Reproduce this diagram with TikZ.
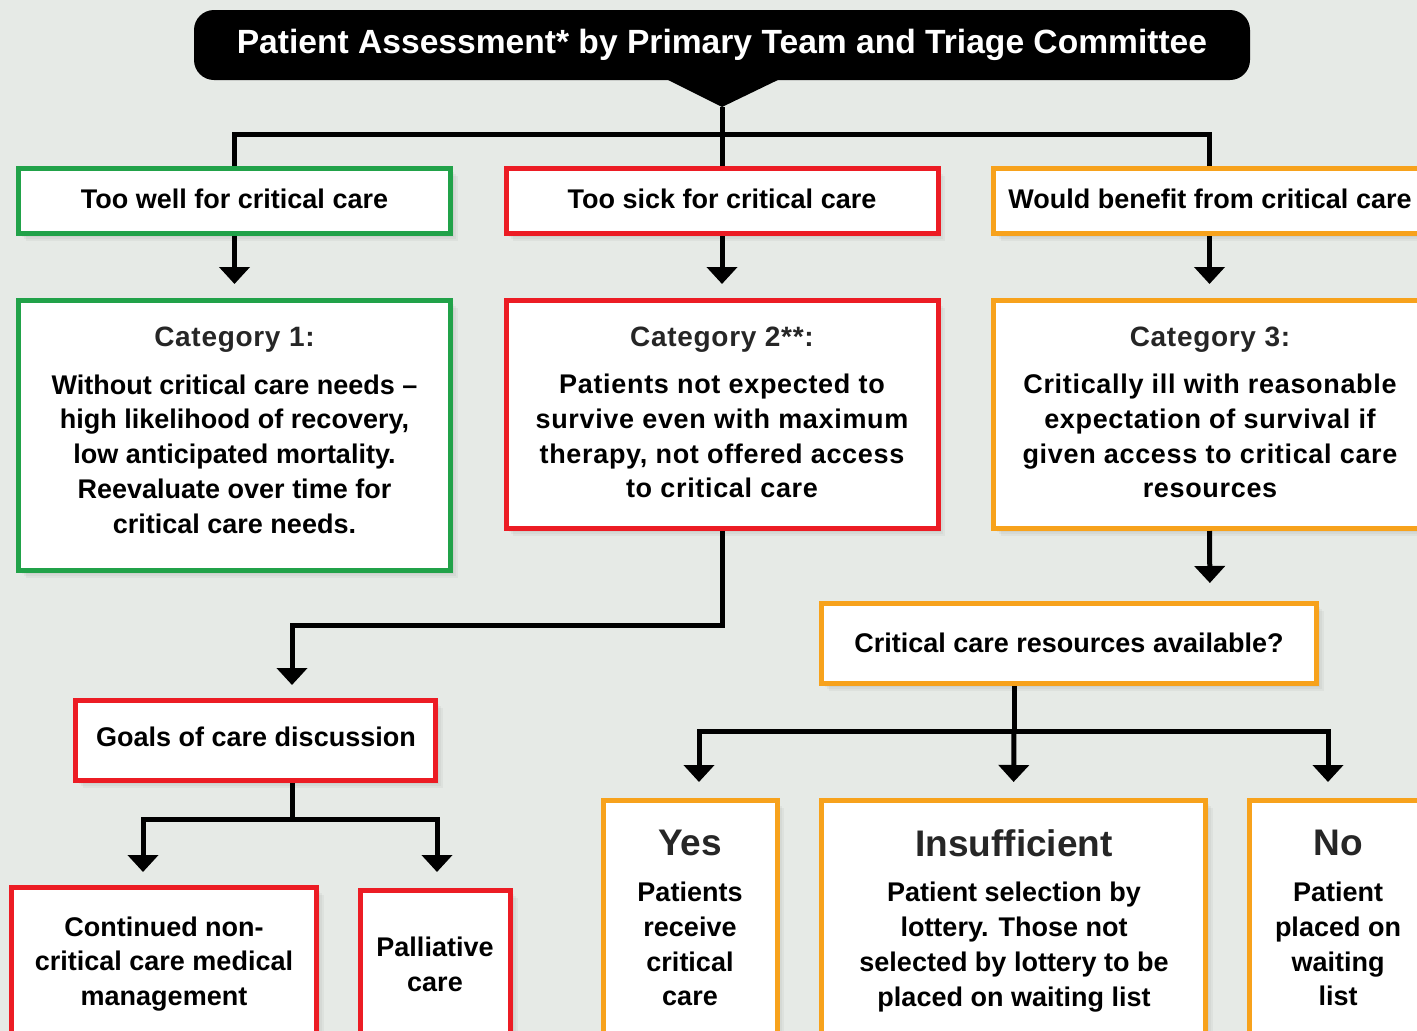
\documentclass[tikz,border=0pt]{standalone}
\usepackage{fontspec}
\setmainfont{Liberation Sans}
\newfontfamily\spacedfont{Liberation Sans}[LetterSpace=2.5]
\usetikzlibrary{arrows.meta,calc,shadows}
\definecolor{bg}{HTML}{E6EAE6}
\definecolor{cgreen}{HTML}{21A249}
\definecolor{cred}{HTML}{EC1C24}
\definecolor{corange}{HTML}{F7A21C}
\definecolor{cgray}{HTML}{262626}
\begin{document}
\begin{tikzpicture}[x=1pt,y=-1pt,
  softshadow/.style={
    general shadow={fill=black, opacity=.035, shadow xshift=3pt, shadow yshift=-3pt},
    general shadow={fill=black, opacity=.035, shadow xshift=5pt, shadow yshift=-5pt},
    general shadow={fill=black, opacity=.035, shadow xshift=7pt, shadow yshift=-7pt}},
  gbox/.style={softshadow, draw=cgreen, line width=5pt, fill=white, inner sep=0pt},
  rbox/.style={softshadow, draw=cred, line width=5pt, fill=white, inner sep=0pt},
  obox/.style={softshadow, draw=corange, line width=5pt, fill=white, inner sep=0pt},
  txt/.style={font=\fontsize{27}{34.8}\selectfont\bfseries, align=center, inner sep=0pt, text=black},
  stxt/.style={font=\fontsize{27}{34.8}\selectfont\spacedfont\bfseries, align=center, inner sep=0pt, text=black},
  head/.style={font=\fontsize{28}{34}\selectfont\spacedfont\bfseries, inner sep=0pt, text=cgray},
  bighead/.style={font=\fontsize{37}{40}\selectfont\bfseries, inner sep=0pt, text=cgray},
  conn/.style={line width=5pt, draw=black},
  arr/.style={conn, -{Triangle[width=30pt,length=17pt]}}]
\useasboundingbox (0,0) rectangle (1417,1031);
\clip (0,0) rectangle (1417,1031);
\fill[bg] (0,0) rectangle (1417,1031);

% banner
\node[fill=black, rounded corners=20pt, minimum width=1056pt, minimum height=70pt, inner sep=0pt] (banner) at (722,45) {};
\coordinate (apex) at (722,107);
\fill[black] (664,78) -- (apex) -- (782,78) -- cycle;
\node[font=\fontsize{33.6}{36}\selectfont\bfseries, text=white, inner sep=0pt] (bannertext) at (722,45) {Patient Assessment* by Primary Team and Triage Committee};

% row 1
\node[gbox, minimum width=432pt, minimum height=65pt] (toowell) at (234.5,201) {};
\node[rbox, minimum width=432pt, minimum height=65pt] (toosick) at (722,201) {};
\node[obox, minimum width=432pt, minimum height=65pt] (benefit) at (1209.5,201) {};
\node[txt] (toowelltext) at (234.5,199) {Too well for critical care};
\node[txt] (toosicktext) at (722,199) {Too sick for critical care};
\node[txt] (benefittext) at (1210,199) {Would benefit from critical care};

% row 2
\node[gbox, minimum width=432pt, minimum height=270pt] (cat1) at (234.5,435.5) {};
\node[rbox, minimum width=432pt, minimum height=228pt] (cat2) at (722,414.5) {};
\node[obox, minimum width=432pt, minimum height=228pt] (cat3) at (1209.5,414.5) {};
\node[head] (cat1head) at (234.5,340) {Category 1:};
\node[head] (cat2head) at (722,340) {Category 2**:};
\node[head] (cat3head) at (1210,340) {Category 3:};
\node[txt] (cat1text) at (234.5,454) {Without critical care needs --\\high likelihood of recovery,\\low anticipated mortality.\\Reevaluate over time for\\critical care needs.};
\node[stxt] (cat2text) at (722,436) {Patients not expected to\\survive even with maximum\\therapy, not offered access\\to critical care};
\node[stxt] (cat3text) at (1210,436) {Critically ill with reasonable\\expectation of survival if\\given access to critical care\\resources};

% critical resources
\node[obox, minimum width=495pt, minimum height=80pt] (crit) at (1069,643.5) {};
\node[txt] (crittext) at (1069,643) {Critical care resources available?};

% goals
\node[rbox, minimum width=360pt, minimum height=80pt] (goals) at (255.5,740.5) {};
\node[txt] (goalstext) at (256,737) {Goals of care discussion};

% bottom left
\node[rbox, minimum width=305pt, minimum height=210pt] (contin) at (164.25,992.5) {};
\node[rbox, minimum width=150pt, minimum height=207pt] (pall) at (435.5,994) {};
\node[txt] (contintext) at (164,964) {Continued non-\\critical care medical\\management};
\node[txt] (palltext) at (435,964) {Palliative\\care};

% bottom right
\node[obox, minimum width=174pt, minimum height=297pt] (yes) at (690,949) {};
\node[obox, minimum width=384pt, minimum height=297pt] (insuff) at (1013.5,949) {};
\node[obox, minimum width=177pt, minimum height=297pt] (no) at (1338,949) {};
\node[bighead] (yeshead) at (690,843) {Yes};
\node[bighead] (insuffhead) at (1014,843) {Insufficient};
\node[bighead] (nohead) at (1338,843) {No};
\node[txt] (yestext) at (690,944) {Patients\\receive\\critical\\care};
\node[txt] (insufftext) at (1014,947) {Patient selection by\\lottery. Those not\\selected by lottery to be\\placed on waiting list};
\node[txt] (notext) at (1338,944) {Patient\\placed on\\waiting\\list};

% connectors: banner to row 1
\coordinate (bar) at (722,134);
\draw[conn] (apex) -- (toosick.north);
\draw[conn] (toowell.north) |- (bar) -| (benefit.north);

% row 1 to row 2
\draw[arr, shorten >=14pt] (toowell.south) -- (cat1.north);
\draw[arr, shorten >=14pt] (toosick.south) -- (cat2.north);
\draw[arr, shorten >=14pt] (benefit.south) -- (cat3.north);

% cat2 to goals
\coordinate (turn1) at (292,625);
\coordinate (goalsin) at (292,698);
\draw[arr, shorten >=13pt] (cat2.south) |- (turn1) -- (goalsin);

% cat3 to critical
\coordinate (critin) at (1210,601);
\draw[arr, shorten >=18pt] (cat3.south) -- (critin);

% goals to bottom left
\coordinate (goalsout) at (292,783);
\coordinate (bar3) at (292,819);
\coordinate (continin) at (143,885);
\coordinate (pallin) at (437,888);
\draw[conn] (goalsout) -- (bar3);
\draw[arr, shorten >=13pt] (bar3) -| (continin);
\draw[arr, shorten >=16pt] (bar3) -| (pallin);

% critical to bottom right
\coordinate (critout) at (1014,686);
\coordinate (bar2) at (1014,731);
\coordinate (yesin) at (699,798);
\coordinate (noin) at (1328,798);
\draw[conn] (critout) -- (bar2);
\draw[arr, shorten >=16pt] (bar2) -| (yesin);
\draw[arr, shorten >=16pt] (bar2) -- (insuff.north);
\draw[arr, shorten >=16pt] (bar2) -| (noin);
\end{tikzpicture}
\end{document}
